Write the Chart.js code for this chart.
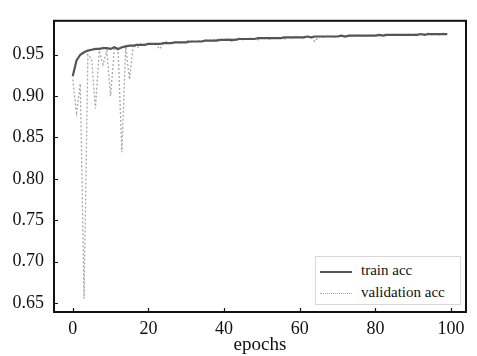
<!DOCTYPE html>
<html>
<head>
<meta charset="utf-8">
<script src="https://cdn.jsdelivr.net/npm/chart.js@4/dist/chart.umd.min.js"></script>
<style>
  html, body { margin:0; padding:0; background:#fff; }
  #wrap { position:relative; width:477px; height:356px; }
  #legend {
    position:absolute; left:315px; top:256px; width:146px; height:49px;
    border:1px solid #d8d8d8; background:#fff; box-sizing:border-box;
    font-family:'Liberation Serif', serif; font-size:15px; color:#111;
  }
  #legend .it { position:absolute; left:4px; height:20px; line-height:20px; }
  #legend .sw { display:inline-block; width:32px; vertical-align:middle; margin-right:9px; }
</style>
</head>
<body>
<div id="wrap">
  <canvas id="c" width="477" height="356"></canvas>
  <div id="legend">
    <div class="it" style="top:3px"><span class="sw" style="border-top:2px solid #555"></span>train acc</div>
    <div class="it" style="top:25px"><span class="sw" style="border-top:1px dotted #aaa"></span>validation acc</div>
  </div>
</div>
<script>
// ── DATOS ──────────────────────────────────────────────
var EPOCHS = Array.from({ length: 100 }, function (_, i) { return i; });

var TRAIN_ACC = [
  0.924,0.943,0.950,0.953,0.955,0.956,0.957,0.957,0.958,0.958,
  0.957,0.959,0.957,0.959,0.960,0.961,0.961,0.962,0.962,0.962,
  0.963,0.963,0.963,0.963,0.964,0.964,0.964,0.965,0.965,0.965,
  0.965,0.966,0.966,0.966,0.966,0.967,0.967,0.967,0.967,0.968,
  0.968,0.968,0.968,0.968,0.969,0.969,0.969,0.969,0.969,0.970,
  0.970,0.970,0.970,0.970,0.970,0.970,0.971,0.971,0.971,0.971,
  0.971,0.971,0.972,0.971,0.972,0.972,0.972,0.972,0.972,0.972,
  0.972,0.973,0.972,0.973,0.973,0.973,0.973,0.973,0.973,0.973,
  0.973,0.974,0.973,0.974,0.974,0.974,0.974,0.974,0.974,0.974,
  0.974,0.974,0.975,0.974,0.975,0.975,0.975,0.975,0.975,0.975
];

var VAL_ACC = [
  0.920,0.880,0.915,0.655,0.950,0.945,0.885,0.955,0.938,0.955,
  0.900,0.958,0.955,0.832,0.960,0.920,0.962,0.958,0.963,0.961,
  0.964,0.963,0.962,0.957,0.964,0.966,0.963,0.966,0.965,0.964,
  0.967,0.966,0.965,0.967,0.966,0.968,0.966,0.967,0.969,0.967,
  0.968,0.970,0.966,0.969,0.970,0.968,0.969,0.970,0.969,0.968,
  0.970,0.971,0.969,0.970,0.971,0.970,0.969,0.971,0.970,0.972,
  0.971,0.970,0.972,0.971,0.966,0.972,0.971,0.972,0.973,0.971,
  0.972,0.973,0.972,0.973,0.972,0.974,0.973,0.972,0.974,0.973,
  0.974,0.973,0.974,0.975,0.973,0.974,0.975,0.974,0.973,0.975,
  0.974,0.975,0.974,0.975,0.976,0.974,0.975,0.974,0.976,0.975
];

var X_TICKS = [0, 20, 40, 60, 80, 100];
var Y_TICKS = [0.65, 0.70, 0.75, 0.80, 0.85, 0.90, 0.95];

var FONT = "'Liberation Serif', 'DejaVu Serif', serif";

// ── MARCO Y TICKS HACIA ADENTRO ───────────────────────
var framePlugin = {
  id: 'frame',
  afterDraw: function (chart) {
    var a = chart.chartArea, ctx = chart.ctx;
    var sx = chart.scales.x, sy = chart.scales.y;
    ctx.save();
    ctx.strokeStyle = '#111';
    ctx.lineWidth = 1.2;
    ctx.beginPath();
    X_TICKS.forEach(function (v) {
      var px = Math.round(sx.getPixelForValue(v)) + 0.5;
      ctx.moveTo(px, a.bottom); ctx.lineTo(px, a.bottom - 4);
    });
    Y_TICKS.forEach(function (v) {
      var py = Math.round(sy.getPixelForValue(v)) + 0.5;
      ctx.moveTo(a.left, py); ctx.lineTo(a.left + 4, py);
    });
    ctx.stroke();
    ctx.lineWidth = 2;
    ctx.strokeRect(a.left, a.top, a.right - a.left, a.bottom - a.top);
    ctx.restore();
  }
};

new Chart(document.getElementById('c').getContext('2d'), {
  type: 'line',
  data: {
    labels: EPOCHS,
    datasets: [
      {
        label: 'validation acc',
        data: VAL_ACC,
        borderColor: '#a8a8a8',
        borderWidth: 1.3,
        borderDash: [2, 2],
        pointRadius: 0,
        fill: false,
        tension: 0,
        order: 2,
      },
      {
        label: 'train acc',
        data: TRAIN_ACC,
        borderColor: '#555555',
        borderWidth: 2.2,
        pointRadius: 0,
        fill: false,
        tension: 0,
        order: 1,
      },
    ],
  },
  options: {
    responsive: false,
    animation: false,
    layout: { padding: { top: 8, right: 11, left: 0, bottom: 0 } },
    plugins: { legend: { display: false }, tooltip: { enabled: false } },
    scales: {
      x: {
        type: 'linear',
        min: -4.95,
        max: 103.95,
        grid: { display: false, drawTicks: false },
        border: { display: false },
        afterBuildTicks: function (s) { s.ticks = X_TICKS.map(function (v) { return { value: v }; }); },
        afterFit: function (s) { s.height = 44; },
        ticks: {
          font: { family: FONT, size: 18 },
          color: '#111',
          padding: 6,
          maxRotation: 0,
        },
        title: {
          display: true,
          text: 'epochs',
          font: { family: FONT, size: 19 },
          color: '#111',
          padding: { top: 0, bottom: 0 },
        },
      },
      y: {
        min: 0.639,
        max: 0.991,
        grid: { display: false, drawTicks: false },
        border: { display: false },
        afterBuildTicks: function (s) { s.ticks = Y_TICKS.map(function (v) { return { value: v }; }); },
        afterFit: function (s) { s.width = 54; },
        ticks: {
          font: { family: FONT, size: 18 },
          color: '#111',
          padding: 10,
          callback: function (v) { return v.toFixed(2); },
        },
      },
    },
  },
  plugins: [framePlugin],
});
</script>
</body>
</html>
